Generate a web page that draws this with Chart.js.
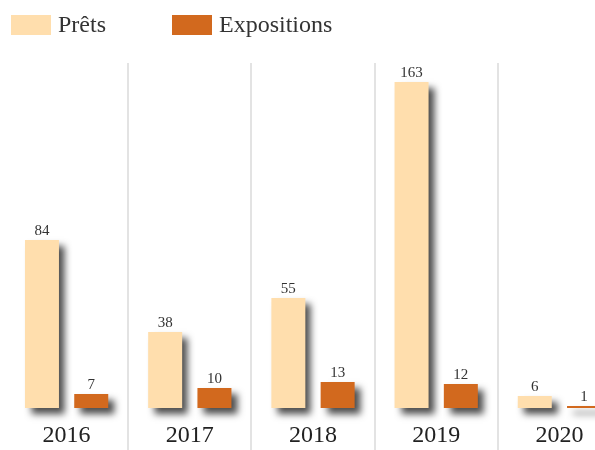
<!DOCTYPE html>
<html>
<head>
<meta charset="utf-8">
<script src="https://cdn.jsdelivr.net/npm/chart.js@4"></script>
<style>
  body { margin: 0; overflow: hidden; background: #fff; }
  #wrap { width: 626px; height: 450px; position: relative; }
</style>
</head>
<body>
<div id="wrap"><canvas id="canva"></canvas></div>
<script>
var years = ["2016", "2017", "2018", "2019", "2020"];
var prets = [84, 38, 55, 163, 6];
var expositions = [7, 10, 13, 12, 1];
var barColors = ["#FFDEAD", "#D2691E"];
var serif = "'Liberation Serif', 'Times New Roman', serif";

// shadow under the bars
var shadowPlugin = {
  id: 'barShadow',
  beforeDatasetsDraw: function (chart) {
    var c = chart.ctx;
    c.save();
    c.shadowColor = 'rgba(0,0,0,0.7)';
    c.shadowBlur = 7;
    c.shadowOffsetX = 6;
    c.shadowOffsetY = 6;
  },
  afterDatasetsDraw: function (chart) {
    chart.ctx.restore();
  }
};

// values above bars
var valuePlugin = {
  id: 'barValues',
  afterDatasetsDraw: function (chart) {
    var c = chart.ctx;
    c.save();
    c.font = '15px ' + serif;
    c.fillStyle = '#333';
    c.textAlign = 'center';
    c.textBaseline = 'alphabetic';
    chart.data.datasets.forEach(function (ds, i) {
      chart.getDatasetMeta(i).data.forEach(function (bar, j) {
        c.fillText(ds.data[j], bar.x, bar.y - 5);
      });
    });
    c.restore();
  }
};

// legend drawn by hand to get the wide spacing
var legendPlugin = {
  id: 'wideLegend',
  afterDraw: function (chart) {
    var c = chart.ctx;
    c.save();
    c.font = '24px ' + serif;
    c.textBaseline = 'middle';
    chart.data.datasets.forEach(function (ds, i) {
      var x = 11 + i * 161;
      c.fillStyle = ds.backgroundColor;
      c.fillRect(x, 15, 40, 20);
      c.fillStyle = '#333';
      c.fillText(ds.label, x + 47, 26);
    });
    c.restore();
  }
};

var ctx = document.getElementById("canva").getContext('2d');
var config = {
  type: 'bar',
  data: {
    labels: years,
    datasets: [{
      label: 'Prêts',
      backgroundColor: barColors[0],
      clip: false,
      data: prets
    }, {
      label: 'Expositions',
      backgroundColor: barColors[1],
      clip: false,
      data: expositions
    }]
  },
  options: {
    responsive: true,
    maintainAspectRatio: false,
    animation: false,
    categoryPercentage: 0.8,
    barPercentage: 0.69,
    layout: {
      padding: { top: 63, left: 5, right: 5, bottom: 0 }
    },
    plugins: {
      legend: { display: false },
      tooltip: { enabled: false }
    },
    scales: {
      x: {
        border: { display: false },
        afterFit: function (scale) { scale.height = 42; },
        grid: {
          color: function (c) { return c.index === 0 ? 'rgba(0,0,0,0)' : '#e3e3e3'; },
          lineWidth: 2,
          tickLength: 45
        },
        ticks: {
          padding: -32,
          color: '#222',
          font: { family: serif, size: 24 }
        }
      },
      y: {
        display: false,
        min: 0,
        max: 172.5
      }
    }
  },
  plugins: [shadowPlugin, valuePlugin, legendPlugin]
};
new Chart(ctx, config);
</script>
</body>
</html>
